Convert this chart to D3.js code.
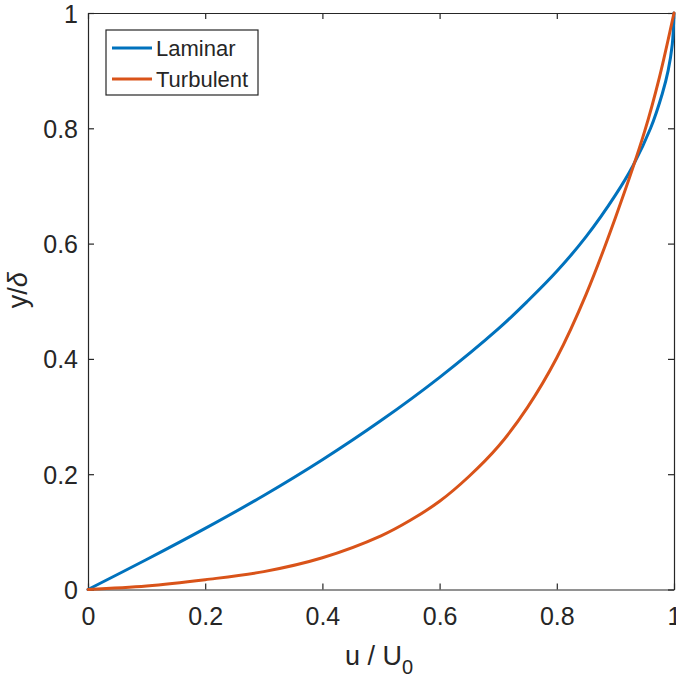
<!DOCTYPE html>
<html>
<head>
<meta charset="utf-8">
<script src="https://cdn.jsdelivr.net/npm/d3@7"></script>
<style>
  body { margin: 0; background: #fff; }
  svg { display: block; font-family: "Liberation Sans", Arial, sans-serif; }
</style>
</head>
<body>
<svg width="676" height="680"></svg>
<script>
// values: u/U0 and y/delta
const laminarU = [0, 0.1, 0.2, 0.3, 0.4, 0.5, 0.6, 0.7, 0.75, 0.8, 0.85, 0.9, 0.93, 0.96, 0.98, 0.99, 0.997, 1];
const laminarY = [0, 0.052, 0.106, 0.163, 0.225, 0.293, 0.368, 0.452, 0.5, 0.552, 0.612, 0.684, 0.735, 0.8, 0.86, 0.9, 0.945, 1];

const turbulentU = [0, 0.1, 0.2, 0.3, 0.4, 0.5, 0.55, 0.6, 0.65, 0.7, 0.75, 0.8, 0.85, 0.9, 0.95, 0.975, 1];
const turbulentY = [0, 0.006, 0.017, 0.031, 0.055, 0.093, 0.12, 0.153, 0.196, 0.248, 0.316, 0.402, 0.512, 0.645, 0.795, 0.888, 1];

const seriesNames = ["Laminar", "Turbulent"];
const xTicks = [0, 0.2, 0.4, 0.6, 0.8, 1];
const yTicks = [0, 0.2, 0.4, 0.6, 0.8, 1];

const colors = ["#0072BD", "#D95319"];
const textColor = "#262626";

let margin = { top: 13, right: 2, bottom: 90.5, left: 88 },
    plotWidth = 676 - margin.left - margin.right,
    plotHeight = 680 - margin.top - margin.bottom;

const svg = d3.select("svg");

const g = svg.append("g")
    .attr("transform", `translate(${margin.left}, ${margin.top})`);

const x = d3.scaleLinear().domain([0, 1]).range([0, plotWidth]);
const y = d3.scaleLinear().domain([0, 1]).range([plotHeight, 0]);

// bottom axis, ticks point inward
const xAxis = g.append("g")
    .attr("transform", `translate(0, ${plotHeight})`)
    .call(d3.axisBottom(x).tickValues(xTicks).tickFormat(d3.format("")).tickSizeInner(-6).tickSizeOuter(0).tickPadding(18));

// left axis
const yAxis = g.append("g")
    .call(d3.axisLeft(y).tickValues(yTicks).tickFormat(d3.format("")).tickSizeInner(-6).tickSizeOuter(0).tickPadding(10));

// top and right box lines with ticks, no labels
const topAxis = g.append("g")
    .call(d3.axisTop(x).tickValues(xTicks).tickFormat("").tickSizeInner(-6).tickSizeOuter(0));
const rightAxis = g.append("g")
    .attr("transform", `translate(${plotWidth}, 0)`)
    .call(d3.axisRight(y).tickValues(yTicks).tickFormat("").tickSizeInner(-6).tickSizeOuter(0));

[xAxis, yAxis, topAxis, rightAxis].forEach(a => {
    a.select(".domain").attr("stroke", textColor).attr("stroke-width", 1.2);
    a.selectAll(".tick line").attr("stroke", textColor).attr("stroke-width", 1.2);
    a.selectAll(".tick text").attr("fill", textColor).attr("font-size", "25px")
        .attr("font-family", "'Liberation Sans', Arial, sans-serif");
});
yAxis.selectAll(".tick text").attr("dy", "0.36em");

// curves
const line = d3.line()
    .x(d => x(d[0]))
    .y(d => y(d[1]))
    .curve(d3.curveCatmullRom.alpha(0.5));

const laminar = laminarU.map((u, i) => [u, laminarY[i]]);
const turbulent = turbulentU.map((u, i) => [u, turbulentY[i]]);

[laminar, turbulent].forEach((data, i) => {
    g.append("path")
        .datum(data)
        .attr("d", line)
        .attr("fill", "none")
        .attr("stroke", colors[i])
        .attr("stroke-width", 3)
        .attr("stroke-linejoin", "round")
        .attr("stroke-linecap", "round");
});

// X label
const xLabel = g.append("text")
    .attr("x", plotWidth / 2 - 2)
    .attr("y", plotHeight + 75)
    .attr("text-anchor", "middle")
    .attr("font-size", "27px")
    .attr("fill", textColor);
xLabel.append("tspan").text("u / U");
xLabel.append("tspan").attr("font-size", "20px").attr("dy", 9).text("0");

// Y label
const yLabel = g.append("text")
    .attr("x", -(plotHeight / 2) + 11)
    .attr("y", -61)
    .attr("text-anchor", "middle")
    .attr("font-size", "27px")
    .attr("transform", "rotate(-90)")
    .attr("fill", textColor);
yLabel.append("tspan").text("y/");
yLabel.append("tspan").attr("font-style", "italic").text("δ");

// legend
const legend = g.append("g")
    .attr("transform", `translate(${106 - margin.left}, ${30 - margin.top})`);

legend.append("rect")
    .attr("width", 152)
    .attr("height", 65)
    .attr("fill", "#fff")
    .attr("stroke", textColor)
    .attr("stroke-width", 1.2);

const items = legend.selectAll(".item")
    .data(seriesNames)
    .enter().append("g")
    .attr("class", "item")
    .attr("transform", (d, i) => `translate(0, ${18 + i * 31})`);

items.append("line")
    .attr("x1", 6)
    .attr("x2", 46)
    .attr("stroke", (d, i) => colors[i])
    .attr("stroke-width", 3);

items.append("text")
    .attr("x", 50)
    .attr("y", 8)
    .attr("font-size", "22px")
    .attr("fill", textColor)
    .text(d => d);
</script>
</body>
</html>
